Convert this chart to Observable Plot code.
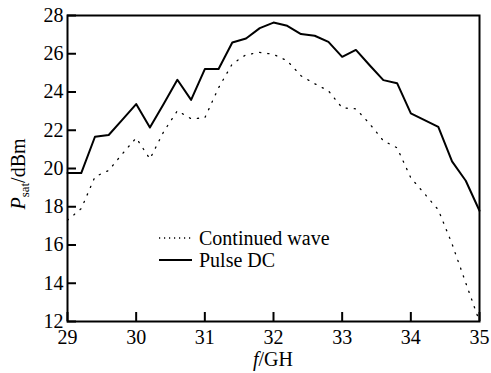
<!DOCTYPE html>
<html>
<head>
<meta charset="utf-8">
<script src="https://cdn.jsdelivr.net/npm/d3@7"></script>
<script src="https://cdn.jsdelivr.net/npm/@observablehq/plot@0.6"></script>
</head>
<body style="margin:0">
<div id="xlabel" style="position:absolute;left:173px;top:349px;width:200px;text-align:center;font-family:'Liberation Serif';font-size:20px;line-height:20px;color:#000"><i>f</i>/GH</div>
<div id="chart"></div>
<script>
const freq = [29.0, 29.2, 29.4, 29.6, 29.8, 30.0, 30.2, 30.4, 30.6, 30.8, 31.0, 31.2, 31.4, 31.6, 31.8, 32.0,
              32.2, 32.4, 32.6, 32.8, 33.0, 33.2, 33.4, 33.6, 33.8, 34.0, 34.2, 34.4, 34.6, 34.8, 35.0];
const pulseDC = [19.76, 19.76, 21.66, 21.75, 22.56, 23.37, 22.14, 23.37, 24.64, 23.59, 25.2, 25.2, 26.59, 26.8, 27.34, 27.63,
                 27.46, 27.03, 26.94, 26.62, 25.84, 26.2, 25.4, 24.62, 24.46, 22.88, 22.53, 22.18, 20.37, 19.36, 17.79];
const continuedWave = [17.3, 17.9, 19.57, 19.9, 20.77, 21.6, 20.5, 21.92, 23.02, 22.6, 22.65, 24.22, 25.47, 25.95, 26.07, 25.97,
                       25.63, 24.85, 24.43, 24.06, 23.17, 23.12, 22.34, 21.45, 21.08, 19.51, 18.68, 17.84, 16.06, 14.02, 12.0];
const xTicks = [29, 30, 31, 32, 33, 34, 35];
const yTicks = [12, 14, 16, 18, 20, 22, 24, 26, 28];
const seriesNames = ["Continued wave", "Pulse DC"];

const W = 491, H = 373;
const mL = 67, mR = 12, mT = 15, mB = 52;
const pw = W - mL - mR, ph = H - mT - mB;
const font = "Liberation Serif";

const cw = freq.map((f, i) => ({f, v: continuedWave[i]}));
const pd = freq.map((f, i) => ({f, v: pulseDC[i]}));

const plot = Plot.plot({
  width: W, height: H,
  marginLeft: mL, marginRight: mR, marginTop: mT, marginBottom: mB,
  style: {fontFamily: font, fontSize: "20px"},
  x: {domain: [29, 35]},
  y: {domain: [12, 28]},
  marks: [
    Plot.line(cw, {x: "f", y: "v", stroke: "#000", strokeWidth: 1.3, strokeDasharray: "1.2,7"}),
    Plot.line(pd, {x: "f", y: "v", stroke: "#000", strokeWidth: 2}),
    Plot.tickX(xTicks, {x: d => d, stroke: "#000", strokeWidth: 2, insetTop: ph - 9}),
    Plot.tickY(yTicks, {y: d => d, stroke: "#000", strokeWidth: 2, insetRight: pw - 9}),
    Plot.axisX(xTicks, {tickSize: 0, tickPadding: 8, fontSize: 20, fontFamily: font, label: null}),
    Plot.axisY(yTicks, {tickSize: 0, tickPadding: 4, fontSize: 20, fontFamily: font, label: null}),
    Plot.frame({stroke: "#000", strokeWidth: 2})
  ]
});

const svg = d3.select(plot);

// y label
const yl = svg.append("text")
  .attr("transform", `translate(25,${mT + ph / 2 + 6}) rotate(-90)`)
  .attr("text-anchor", "middle")
  .attr("font-family", font)
  .attr("font-size", 20).attr("fill", "#000");
yl.append("tspan").attr("font-style", "italic").text("P");
yl.append("tspan").attr("font-size", 13).attr("dy", 4).text("sat");
yl.append("tspan").attr("dy", -4).text("/dBm");

// legend
const leg = svg.append("g").attr("font-size", 20).attr("font-family", font).attr("text-anchor", "start");
seriesNames.forEach((name, i) => {
  const y = 238 + i * 22;
  leg.append("line")
    .attr("x1", 159).attr("x2", 192).attr("y1", y).attr("y2", y)
    .attr("stroke", "#000")
    .attr("stroke-width", i === 0 ? 1.3 : 2)
    .attr("stroke-dasharray", i === 0 ? "1.2,3.8" : null);
  leg.append("text").attr("x", 199).attr("y", y + 7).attr("fill", "#000").text(name);
});

document.getElementById("chart").appendChild(plot);
</script>
</body>
</html>
